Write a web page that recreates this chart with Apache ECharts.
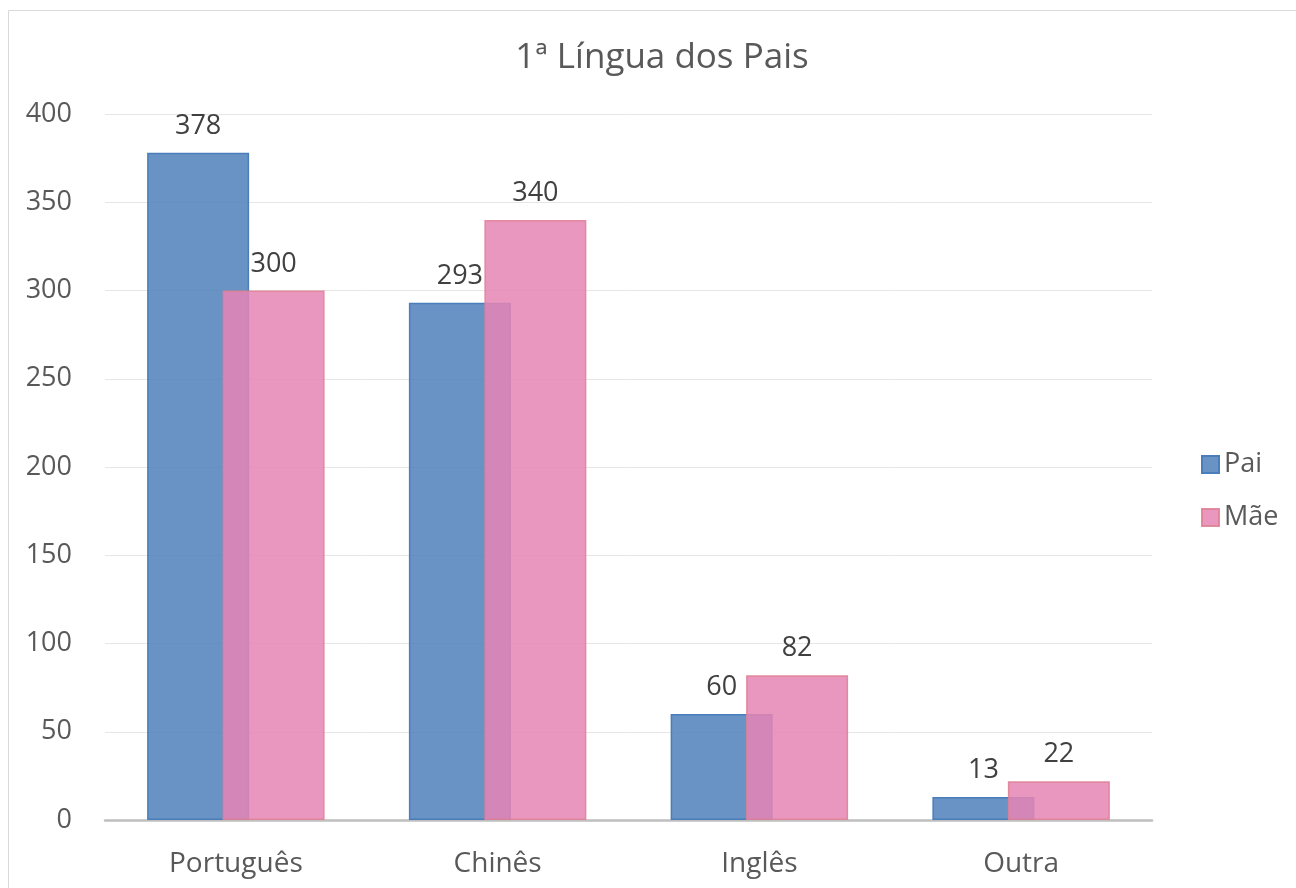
<!DOCTYPE html>
<html>
<head>
<meta charset="utf-8">
<script src="https://cdn.jsdelivr.net/npm/echarts@6/dist/echarts.min.js"></script>
<style>
  html, body { margin: 0; padding: 0; background: #fff; }
  #chart { width: 1296px; height: 888px; }
</style>
</head>
<body>
<div id="chart"></div>
<script>
// dados
const categories = ['Português', 'Chinês', 'Inglês', 'Outra'];
const pai = [378, 293, 60, 13];
const mae = [300, 340, 82, 22];
const yTicks = { min: 0, max: 400, interval: 50 };

const font = '"Open Sans", sans-serif';
const textColor = '#595959';

const chart = echarts.init(document.getElementById('chart'));
chart.setOption({
  animation: false,
  textStyle: { fontFamily: font },
  graphic: [{
    type: 'rect',
    shape: { x: 8.5, y: 10.5, width: 1300, height: 900 },
    style: { fill: 'none', stroke: '#d9d9d9', lineWidth: 1 },
    silent: true
  }],
  title: {
    text: '1ª Língua dos Pais',
    left: 657,
    top: 36,
    textAlign: 'center',
    textStyle: { fontFamily: font, fontSize: 35, fontWeight: 'normal', color: textColor }
  },
  legend: {
    orient: 'vertical',
    left: 1196,
    top: 446,
    icon: 'rect',
    itemWidth: 17,
    itemHeight: 17,
    itemGap: 26,
    textStyle: { fontFamily: font, fontSize: 27, color: textColor },
    data: ['Pai', 'Mãe']
  },
  grid: { left: 105, right: 144, top: 114, bottom: 68 },
  xAxis: {
    type: 'category',
    data: categories,
    axisTick: { show: false },
    axisLine: { lineStyle: { color: '#bfbfbf', width: 2.5 } },
    axisLabel: { fontFamily: font, fontSize: 28, color: textColor, margin: 30 }
  },
  yAxis: {
    type: 'value',
    min: yTicks.min,
    max: yTicks.max,
    interval: yTicks.interval,
    axisLine: { show: false },
    axisTick: { show: false },
    splitLine: { lineStyle: { color: '#e6e6e6', width: 1 } },
    axisLabel: { fontFamily: font, fontSize: 27, color: textColor, margin: 33 }
  },
  series: [
    {
      name: 'Pai',
      type: 'bar',
      data: pai,
      barWidth: 102,
      barGap: '-26%',
      itemStyle: { color: 'rgba(79,127,187,0.85)', borderColor: '#4a7ebb', borderWidth: 1.5 },
      label: { show: true, position: 'top', distance: 13, fontFamily: font, fontSize: 27, color: '#404040' }
    },
    {
      name: 'Mãe',
      type: 'bar',
      data: mae,
      barWidth: 102,
      itemStyle: { color: 'rgba(230,133,181,0.85)', borderColor: 'rgba(224,130,150,0.9)', borderWidth: 1.5 },
      label: { show: true, position: 'top', distance: 13, fontFamily: font, fontSize: 27, color: '#404040' }
    }
  ]
});
</script>
</body>
</html>
